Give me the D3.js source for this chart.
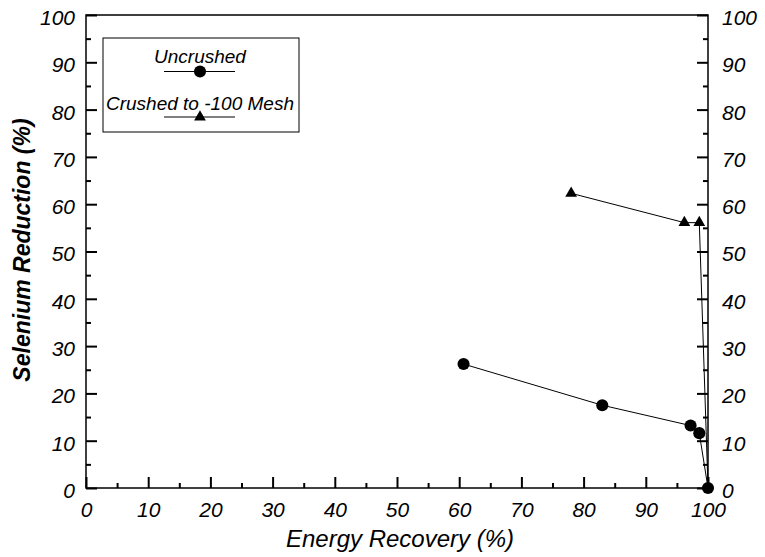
<!DOCTYPE html>
<html>
<head>
<meta charset="utf-8">
<script src="https://cdn.jsdelivr.net/npm/d3@7"></script>
<style>
  body { margin: 0; background: #fff; }
  text { font-family: "Liberation Sans", Arial, sans-serif; font-style: italic; fill: #000; }
</style>
</head>
<body>
<svg id="chart"></svg>
<script>
const width = 765;
const height = 557;

// Data
const uncrushedX = [60.7, 83.0, 97.2, 98.6, 100];
const uncrushedY = [26.2, 17.5, 13.2, 11.6, 0];
const crushedX = [78.0, 96.2, 98.6, 100];
const crushedY = [62.3, 56.1, 56.1, 0];
const majorTicks = [0, 10, 20, 30, 40, 50, 60, 70, 80, 90, 100];
const minorTicks = [5, 15, 25, 35, 45, 55, 65, 75, 85, 95];

const margin = { left: 86, right: 57, top: 15, bottom: 69 };

const svg = d3.select('#chart')
    .attr('width', width)
    .attr('height', height);

const x = d3.scaleLinear().domain([0, 100]).range([margin.left, width - margin.right]);
const y = d3.scaleLinear().domain([0, 100]).range([height - margin.bottom, margin.top]);

const uncrushed = uncrushedX.map((v, i) => ({ x: v, y: uncrushedY[i] }));
const crushed = crushedX.map((v, i) => ({ x: v, y: crushedY[i] }));

// Frame
svg.append('rect')
    .attr('x', x(0)).attr('y', y(100))
    .attr('width', x(100) - x(0)).attr('height', y(0) - y(100))
    .attr('fill', 'none').attr('stroke', '#000').attr('stroke-width', 1.5);

const tickLabelSize = 21;

function styleAxis(g, labels) {
    g.select('.domain').remove();
    g.selectAll('line').attr('stroke-width', 2);
    if (labels) g.selectAll('text').attr('font-size', tickLabelSize).attr('font-family', null).attr('fill', '#000');
}

// Bottom axis (ticks point inward)
const gb = svg.append('g').attr('transform', `translate(0,${y(0)})`)
    .call(d3.axisBottom(x).tickValues(majorTicks).tickSizeInner(-11).tickSizeOuter(0).tickPadding(14));
styleAxis(gb, true);
const gbm = svg.append('g').attr('transform', `translate(0,${y(0)})`)
    .call(d3.axisBottom(x).tickValues(minorTicks).tickSizeInner(-5).tickSizeOuter(0).tickFormat(''));
styleAxis(gbm, false);

// Left axis
const gl = svg.append('g').attr('transform', `translate(${x(0)},0)`)
    .call(d3.axisLeft(y).tickValues(majorTicks).tickSizeInner(-11).tickSizeOuter(0).tickPadding(11));
styleAxis(gl, true);
gl.selectAll('text').attr('dy', '0.45em');
const glm = svg.append('g').attr('transform', `translate(${x(0)},0)`)
    .call(d3.axisLeft(y).tickValues(minorTicks).tickSizeInner(-5).tickSizeOuter(0).tickFormat(''));
styleAxis(glm, false);

// Right axis
const gr = svg.append('g').attr('transform', `translate(${x(100)},0)`)
    .call(d3.axisRight(y).tickValues(majorTicks).tickSizeInner(-11).tickSizeOuter(0).tickPadding(14));
styleAxis(gr, true);
gr.selectAll('text').attr('dy', '0.45em');
const grm = svg.append('g').attr('transform', `translate(${x(100)},0)`)
    .call(d3.axisRight(y).tickValues(minorTicks).tickSizeInner(-5).tickSizeOuter(0).tickFormat(''));
styleAxis(grm, false);

// Series
const line = d3.line().x(d => x(d.x)).y(d => y(d.y));
const circle = d3.symbol().type(d3.symbolCircle).size(115);
const triangle = d3.symbol().type(d3.symbolTriangle).size(60);

svg.append('path').datum(uncrushed).attr('d', line)
    .attr('fill', 'none').attr('stroke', '#000').attr('stroke-width', 1);
svg.append('path').datum(crushed).attr('d', line)
    .attr('fill', 'none').attr('stroke', '#000').attr('stroke-width', 1);

svg.append('g').selectAll('path').data(uncrushed).join('path')
    .attr('d', circle)
    .attr('transform', d => `translate(${x(d.x)},${y(d.y)})`)
    .attr('fill', '#000');
svg.append('g').selectAll('path').data(crushed.slice(0, 3)).join('path')
    .attr('d', triangle)
    .attr('transform', d => `translate(${x(d.x)},${y(d.y)})`)
    .attr('fill', '#000');

// Legend
const legend = svg.append('g');
legend.append('rect')
    .attr('x', 103).attr('y', 38).attr('width', 196).attr('height', 94)
    .attr('fill', '#fff').attr('stroke', '#000').attr('stroke-width', 1);
const legendItems = [
    { label: 'Uncrushed', sym: circle, ty: 63, ly: 71.5 },
    { label: 'Crushed to -100 Mesh', sym: triangle, ty: 110, ly: 117 }
];
legendItems.forEach(it => {
    legend.append('text').attr('x', 200).attr('y', it.ty).attr('text-anchor', 'middle')
        .attr('font-size', 19).text(it.label);
    legend.append('line').attr('x1', 164).attr('x2', 235).attr('y1', it.ly).attr('y2', it.ly)
        .attr('stroke', '#000').attr('stroke-width', 1);
    legend.append('path').attr('d', it.sym).attr('transform', `translate(200,${it.ly})`).attr('fill', '#000');
});

// Axis titles
svg.append('text')
    .attr('x', 400).attr('y', 547)
    .attr('text-anchor', 'middle').attr('font-size', 24)
    .text('Energy Recovery (%)');

svg.append('text')
    .attr('transform', `translate(30,250) rotate(-90)`)
    .attr('text-anchor', 'middle').attr('font-size', 23).attr('font-weight', 'bold')
    .text('Selenium Reduction (%)');
</script>
</body>
</html>
